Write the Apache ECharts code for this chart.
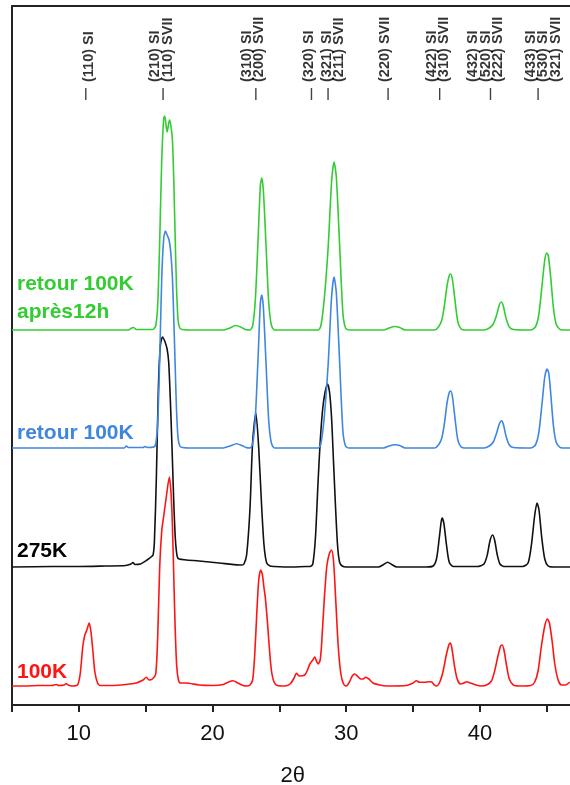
<!DOCTYPE html>
<html>
<head>
<meta charset="utf-8">
<script src="https://cdn.jsdelivr.net/npm/echarts@6/dist/echarts.min.js"></script>
<style>
  html, body { margin: 0; padding: 0; background: #fff; }
  #chart { width: 570px; height: 785px; }
</style>
</head>
<body>
<div id="chart"></div>
<script>
// Powder diffraction patterns, intensity (arb. units) vs 2θ, stacked with vertical offsets.
const pattern100K = [
  [5,0],[6,0],[7,0.5],[8.0,0.5],[8.3,1.5],[8.5,0.5],[8.9,1],[9.05,2.5],[9.2,1],[9.5,0],[9.9,1],
  [10.1,12],[10.3,40],[10.45,51],[10.6,56],[10.77,63],[10.9,55],[11.05,35],[11.2,14],[11.4,3],[11.6,0.5],
  [12.5,0.5],[13.5,1.5],[14.3,3],[14.8,6],[15.05,8.7],[15.25,6],[15.5,7],[15.75,12],
  [15.9,50],[16.05,120],[16.2,155],[16.35,170],[16.55,190],[16.77,209],[16.9,192],[17.0,160],[17.1,110],
  [17.2,60],[17.32,20],[17.45,6],[17.6,3],[18.0,3],[19,1],[20.0,0.5],[20.8,1.5],[21.2,4],[21.54,5.3],
  [21.9,3],[22.3,0.5],[22.55,0],[22.8,1],[23.0,6],[23.15,30],[23.3,70],[23.45,105],[23.6,116],[23.72,112],
  [23.85,98],[23.95,88],[24.1,65],[24.25,38],[24.4,16],[24.6,4],[24.85,0.5],[25.4,0],[25.8,2],[26.1,8],
  [26.28,12.7],[26.5,10],[26.9,11],[27.1,16],[27.28,22],[27.5,26],[27.65,29],[27.8,24],[27.9,22],[28.05,26],
  [28.15,40],[28.35,85],[28.55,120],[28.75,133],[28.9,136],[29.05,125],[29.2,90],[29.4,40],[29.6,12],
  [29.8,2],[30.0,0],[30.2,3],[30.45,10],[30.64,12],[30.9,9],[31.1,7],[31.26,7],[31.45,8.7],[31.7,7],
  [32.0,3],[32.5,1],[33.0,0],[34.5,0.5],[35.0,3],[35.25,5.3],[35.5,3.7],[35.9,3.7],[36.2,4.3],[36.4,4],
  [36.6,1],[36.75,0],[37.0,4],[37.25,15],[37.5,32],[37.7,42],[37.79,43],[37.9,38],[38.1,20],[38.3,7],
  [38.55,2],[38.8,3],[39.0,4.3],[39.3,3],[39.7,1],[40.1,0],[40.5,1],[40.86,5],[41.1,15],[41.35,30],
  [41.55,40],[41.66,41],[41.8,36],[42.0,20],[42.2,7],[42.5,1],[43.0,0],[43.8,0.5],[44.1,4],[44.35,15],
  [44.6,40],[44.85,60],[45.05,67],[45.2,63],[45.4,45],[45.6,22],[45.85,6],[46.1,1],[46.4,1],[46.72,4]
];

const pattern275K = [
  [5,0],[8,0.5],[10,0.5],[12,1],[13.5,1.5],[13.9,3],[14.05,4.5],[14.2,2.5],[14.6,3],[15.1,7],[15.4,10],
  [15.55,12],[15.65,25],[15.8,90],[15.95,180],[16.1,222],[16.26,230],[16.45,225],[16.6,218],[16.72,205],
  [16.85,165],[16.98,115],[17.1,65],[17.22,28],[17.35,11],[17.5,8],[19,6],[20.5,4],[22.0,2],[22.2,2],
  [22.35,3],[22.55,12],[22.8,58],[23.0,125],[23.24,154],[23.45,120],[23.66,64],[23.85,22],[24.05,4],
  [24.3,1],[24.6,0.5],[26,0],[27.0,0.5],[27.3,0.5],[27.5,3],[27.7,30],[27.9,87],[28.1,135],[28.3,165],
  [28.6,183],[28.75,175],[28.9,150],[29.05,105],[29.2,60],[29.35,22],[29.5,5],[29.7,1],[30,0],
  [32.4,0],[32.8,2.5],[33.1,4.7],[33.4,2.5],[33.8,0],[36.0,0],[36.5,1],[36.75,8],[36.95,28],[37.1,45],
  [37.17,49],[37.3,44],[37.5,22],[37.7,5],[38.0,0.5],[39.8,0.5],[40.3,3],[40.55,12],[40.75,26],[40.94,32],
  [41.1,27],[41.3,12],[41.5,3],[41.8,0.5],[43.2,0.5],[43.6,4],[43.85,22],[44.1,52],[44.27,64],[44.42,57],
  [44.62,30],[44.85,8],[45.1,1],[45.5,0],[47,0]
];

const patternRetour = [
  [5,0],[8,0],[11,0],[13.4,0],[13.55,2],[13.7,0.5],[14.8,0.5],[14.95,1.5],[15.15,0.5],[15.6,1],
  [15.75,4],[15.9,25],[16.05,90],[16.2,170],[16.35,210],[16.48,217],[16.6,213],[16.75,208],[16.88,195],
  [17.0,170],[17.1,130],[17.2,85],[17.3,40],[17.42,10],[17.55,2],[17.75,0.5],[18.5,0],[20.8,0],
  [21.3,2],[21.8,4.3],[22.2,2.5],[22.5,0.5],[22.8,0],[23.0,4],[23.2,30],[23.42,95],[23.58,146],[23.68,153],
  [23.8,141],[24.0,85],[24.2,28],[24.4,5],[24.65,0],[27.9,0],[28.1,4],[28.35,30],[28.65,84],[28.9,150],
  [29.09,171],[29.26,155],[29.5,88],[29.75,17],[29.95,2],[30.2,0],[32.8,0],[33.2,2],[33.65,3.3],
  [34.0,2.5],[34.4,0],[36.6,0],[36.9,3],[37.15,10],[37.35,25],[37.55,46],[37.72,56],[37.82,57],
  [37.95,51],[38.15,28],[38.35,8],[38.6,1],[38.9,0],[40.3,0],[40.7,2],[41.0,6],[41.25,15],[41.45,24],
  [41.61,27.3],[41.75,24],[41.95,12],[42.2,3],[42.5,0.5],[43.8,0],[44.15,3],[44.4,15],[44.65,45],
  [44.85,71],[45.02,79],[45.15,75],[45.3,54],[45.5,22],[45.7,6],[45.95,1],[46.2,0],[47,0]
];

const patternRetour12h = [
  [5,0],[8,0],[11,0],[13.7,0],[13.95,2],[14.1,2.5],[14.3,0.5],[15.5,0.5],[15.6,1],[15.75,4],[15.9,25],
  [16.05,90],[16.2,170],[16.35,212],[16.43,214],[16.52,205],[16.6,198],[16.7,205],[16.78,210],[16.88,205],
  [17.0,190],[17.1,150],[17.2,95],[17.3,45],[17.42,10],[17.55,2],[17.75,0.5],[18.5,0],[20.8,0],
  [21.3,2],[21.7,4.5],[22.1,3],[22.45,0.5],[22.8,0],[23.0,4],[23.2,30],[23.42,95],[23.58,145],[23.68,152],
  [23.8,140],[24.0,85],[24.2,28],[24.4,5],[24.65,0],[27.9,0],[28.1,4],[28.35,30],[28.65,83],[28.9,147],
  [29.09,168],[29.26,153],[29.5,87],[29.75,17],[29.95,2],[30.2,0],[32.8,0],[33.2,2],[33.6,3.5],
  [34.0,2.5],[34.4,0],[36.6,0],[36.9,3],[37.15,10],[37.35,25],[37.55,45],[37.72,55],[37.82,56],
  [37.95,50],[38.15,28],[38.35,8],[38.6,1],[38.9,0],[40.3,0],[40.7,2],[41.0,6],[41.25,15],[41.45,25],
  [41.6,28],[41.75,24],[41.95,12],[42.2,3],[42.5,0.5],[43.8,0],[44.15,3],[44.4,15],[44.65,45],
  [44.85,70],[45.0,77],[45.12,74],[45.3,52],[45.5,22],[45.7,6],[45.95,1],[46.2,0],[47,0]
];

// Vertical offsets used to stack the four patterns (same units as intensity)
const offsets = [19, 138, 257, 375];
const seriesNames = ['100K', '275K', 'retour 100K', 'retour 100K\naprès12h'];
const seriesColors = ['#ff1414', '#111111', '#3f86e0', '#33cc33'];

// Reflection markers: tick position and label block position (2θ)
const reflexTick = [10.52, 16.30, 23.24, 27.40, 28.64, 33.13, 36.99, 40.79, 44.35];
const reflexTextPos = [10.78, 16.20, 23.03, 27.21, 29.02, 32.88, 36.87, 40.44, 44.72];
const reflexLabels = [
  '(110) SI',
  '(210) SI\n(110) SVII',
  '(310) SI\n(200) SVII',
  '(320) SI',
  '(321) SI\n(211) SVII',
  '(220) SVII',
  '(422) SI\n(310) SVII',
  '(432) SI\n(520) SI\n(222) SVII',
  '(433) SI\n(530) SI\n(321) SVII'
];

const xTicks = [10, 20, 30, 40];

const FONT = 'Liberation Sans, Arial, sans-serif';
const Y_MAX = 699;
const TICK_Y = 611;     // vertical level of the reflection ticks
const TEXT_Y = 623;     // start of reflection label text

const chart = echarts.init(document.getElementById('chart'), null, { renderer: 'canvas' });

const patterns = [pattern100K, pattern275K, patternRetour, patternRetour12h];

const lineSeries = patterns.map((p, i) => ({
  type: 'line',
  name: seriesNames[i],
  data: p.map(([x, y]) => [x, y + offsets[i]]),
  showSymbol: false,
  smooth: 0.25,
  lineStyle: { color: seriesColors[i], width: 1.6 },
  itemStyle: { color: seriesColors[i] },
  z: 3 + i,
  silent: true
}));

const tickSeries = {
  type: 'scatter',
  data: reflexTick.map(x => [x, TICK_Y]),
  symbol: 'rect',
  symbolSize: [1.4, 12],
  itemStyle: { color: '#111' },
  silent: true,
  z: 10
};

const labelSeries = {
  type: 'scatter',
  data: reflexTextPos.map((x, i) => ({ value: [x, TEXT_Y], label: { formatter: reflexLabels[i] } })),
  symbolSize: 1,
  itemStyle: { color: 'rgba(0,0,0,0)' },
  label: {
    show: true,
    position: 'inside',
    rotate: 90,
    align: 'left',
    verticalAlign: 'middle',
    fontFamily: FONT,
    fontWeight: 'bold',
    fontSize: 14.5,
    lineHeight: 12.5,
    color: '#000'
  },
  silent: true,
  z: 10
};

// Pattern captions at the left of each trace
const captionTop = [672, 551, 433, 298];
const captions = seriesNames.map((name, i) => ({
  type: 'text',
  left: 17,
  top: captionTop[i] - (i === 3 ? 28 : 14),
  style: {
    text: name,
    fill: seriesColors[i] === '#111111' ? '#000' : seriesColors[i],
    font: 'bold 21px ' + FONT,
    lineHeight: 28
  },
  z: 20
}));

chart.setOption({
  animation: false,
  backgroundColor: '#fff',
  grid: { left: 12, top: 6, width: 561.5, height: Y_MAX, outerBoundsMode: 'none', containLabel: false },
  xAxis: [
    {
      type: 'value',
      min: 5,
      max: 47,
      interval: 5,
      position: 'bottom',
      axisLine: { show: true, onZero: false, lineStyle: { color: '#222', width: 2 } },
      axisTick: { show: true, length: 7, lineStyle: { color: '#222', width: 2 } },
      axisLabel: {
        show: true,
        margin: 18,
        fontSize: 22,
        fontFamily: FONT,
        color: '#111',
        showMaxLabel: false,
        formatter: v => (xTicks.indexOf(v) >= 0 ? String(v) : '')
      },
      splitLine: { show: false },
      name: '2θ',
      nameLocation: 'middle',
      nameGap: 60,
      nameTextStyle: { fontSize: 22, fontFamily: FONT, color: '#111' }
    },
    {
      type: 'value',
      min: 5,
      max: 47,
      position: 'top',
      axisLine: { show: true, onZero: false, lineStyle: { color: '#222', width: 2 } },
      axisTick: { show: false },
      axisLabel: { show: false },
      splitLine: { show: false }
    }
  ],
  yAxis: {
    type: 'value',
    min: 0,
    max: Y_MAX,
    axisLine: { show: true, onZero: false, lineStyle: { color: '#222', width: 2 } },
    axisTick: { show: false },
    axisLabel: { show: false },
    splitLine: { show: false }
  },
  graphic: captions,
  series: [...lineSeries, tickSeries, labelSeries]
});
</script>
</body>
</html>
